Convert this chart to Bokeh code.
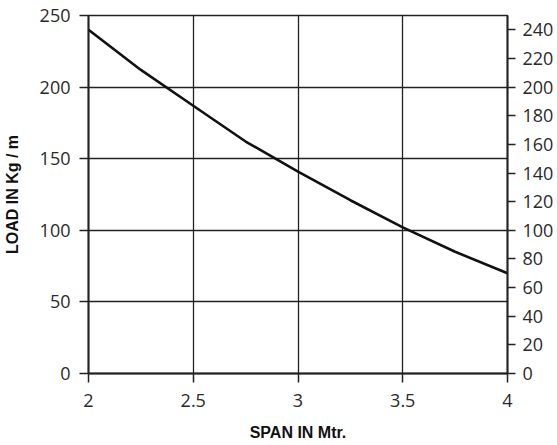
from bokeh.plotting import figure
from bokeh.models import LinearAxis, FixedTicker, Range1d
from bokeh.embed import file_html
from bokeh.resources import INLINE

# Data
span = [2.0, 2.25, 2.5, 2.75, 3.0, 3.25, 3.5, 3.75, 4.0]
load = [240, 212, 187, 162, 141, 121, 102, 85, 70]

x_ticks = [2, 2.5, 3, 3.5, 4]
y_left_ticks = [0, 50, 100, 150, 200, 250]
y_right_ticks = [0, 20, 40, 60, 80, 100, 120, 140, 160, 180, 200, 220, 240]

x_label = "SPAN IN Mtr."
y_label = "LOAD IN Kg / m"

INK = "#222222"
TICK_FONT = "Open Sans"
LABEL_FONT = "Liberation Sans"

p = figure(width=557, height=445, output_backend="svg", toolbar_location=None,
           x_range=Range1d(2, 4), y_range=Range1d(0, 250),
           min_border_left=86, min_border_right=50, min_border_top=15, min_border_bottom=72,
           x_axis_label=x_label, y_axis_label=y_label)

p.background_fill_color = "white"
p.border_fill_color = "white"
p.outline_line_color = INK
p.outline_line_width = 1.3

p.xaxis.ticker = FixedTicker(ticks=x_ticks)
p.yaxis.ticker = FixedTicker(ticks=y_left_ticks)
p.xgrid.ticker = FixedTicker(ticks=x_ticks)
p.ygrid.ticker = FixedTicker(ticks=y_left_ticks)

for g in (p.xgrid, p.ygrid):
    g.grid_line_color = INK
    g.grid_line_width = 1.3
    g.grid_line_alpha = 1.0

right = LinearAxis(ticker=FixedTicker(ticks=y_right_ticks))
p.add_layout(right, "right")

for ax in (p.xaxis[0], p.yaxis[0], right):
    ax.axis_line_color = INK
    ax.axis_line_width = 2
    ax.major_tick_line_color = INK
    ax.major_tick_line_width = 1.5
    ax.major_tick_in = 0
    ax.major_tick_out = 9
    ax.minor_tick_line_color = None
    ax.major_label_text_font = TICK_FONT
    ax.major_label_text_font_size = "18px"
    ax.major_label_text_color = "#2a2a2a"
    ax.axis_label_text_font = LABEL_FONT
    ax.axis_label_text_font_style = "bold"
    ax.axis_label_text_font_size = "16px"
    ax.axis_label_text_color = "#111111"

right.major_tick_out = 8
right.major_label_standoff = 7
p.yaxis[0].major_label_standoff = 9
p.yaxis[0].axis_label_standoff = 16
p.xaxis[0].major_label_standoff = 11
p.xaxis[0].axis_label_standoff = 14

p.line(span, load, line_color="#111111", line_width=2.6)

html = file_html(p, INLINE)
open("out.html", "w").write(html)
